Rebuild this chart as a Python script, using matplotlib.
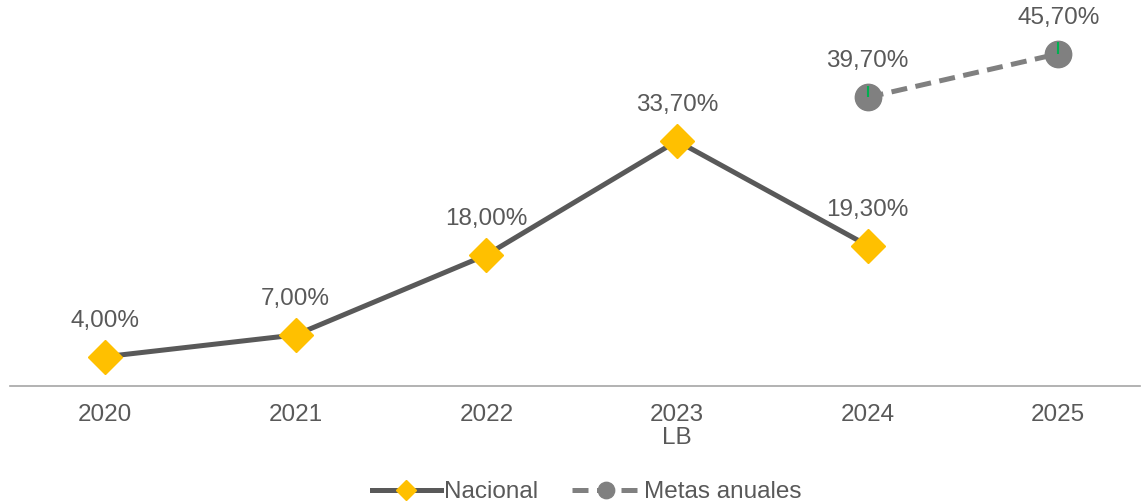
import matplotlib.pyplot as plt

plt.rcParams['font.family'] = ['Liberation Sans', 'DejaVu Sans']

years = ['2020', '2021', '2022', '2023\nLB', '2024', '2025']
nacional = [4.0, 7.0, 18.0, 33.7, 19.3]
metas_x = [4, 5]
metas = [39.7, 45.7]

gray_txt = '#595959'

fig = plt.figure(figsize=(11.42, 5.01), dpi=100)
ax = fig.add_axes([0.0085, 0.23, 0.99, 0.725])

x_nac = list(range(len(nacional)))
ax.plot(x_nac, nacional, color='#595959', lw=3.6, marker='D', ms=17,
        mfc='#FFC000', mec='#FFC000', label='Nacional', zorder=3)
ax.plot(metas_x, metas, color='#808080', lw=3.6, ls=(0, (3.2, 1.7)), marker='o',
        ms=19, mfc='#808080', mec='#808080', label='Metas anuales', zorder=3)
# small green tick on the goal markers
ax.errorbar(metas_x, metas, yerr=[[0, 0], [1.6, 1.6]], fmt='none',
            ecolor='#00B050', elinewidth=1.5, capsize=0, zorder=4)

for xi, v in zip(x_nac + metas_x, nacional + metas):
    ax.annotate(f'{v:.2f}%'.replace('.', ','), (xi, v), xytext=(0, 18),
                textcoords='offset points', ha='center', va='bottom',
                fontsize=17.5, color=gray_txt)

ax.set_xlim(-0.5, 5.43)
ax.set_ylim(0, 50)
ax.set_xticks(range(len(years)))
ax.set_xticklabels(years, fontsize=17.5, color=gray_txt, linespacing=1.05)
ax.tick_params(axis='x', length=0, pad=13)
ax.set_yticks([])
for s in ['top', 'right', 'left']:
    ax.spines[s].set_visible(False)
ax.spines['bottom'].set_color('#A6A6A6')
ax.spines['bottom'].set_linewidth(1.2)

leg = fig.legend(loc='lower center', bbox_to_anchor=(0.514, -0.048), ncol=2,
                 frameon=False, fontsize=17.5, handlelength=2.8, columnspacing=1.4,
                 handletextpad=0.15, markerscale=0.62)
for t in leg.get_texts():
    t.set_color(gray_txt)

fig.savefig('out.png', dpi=100)
